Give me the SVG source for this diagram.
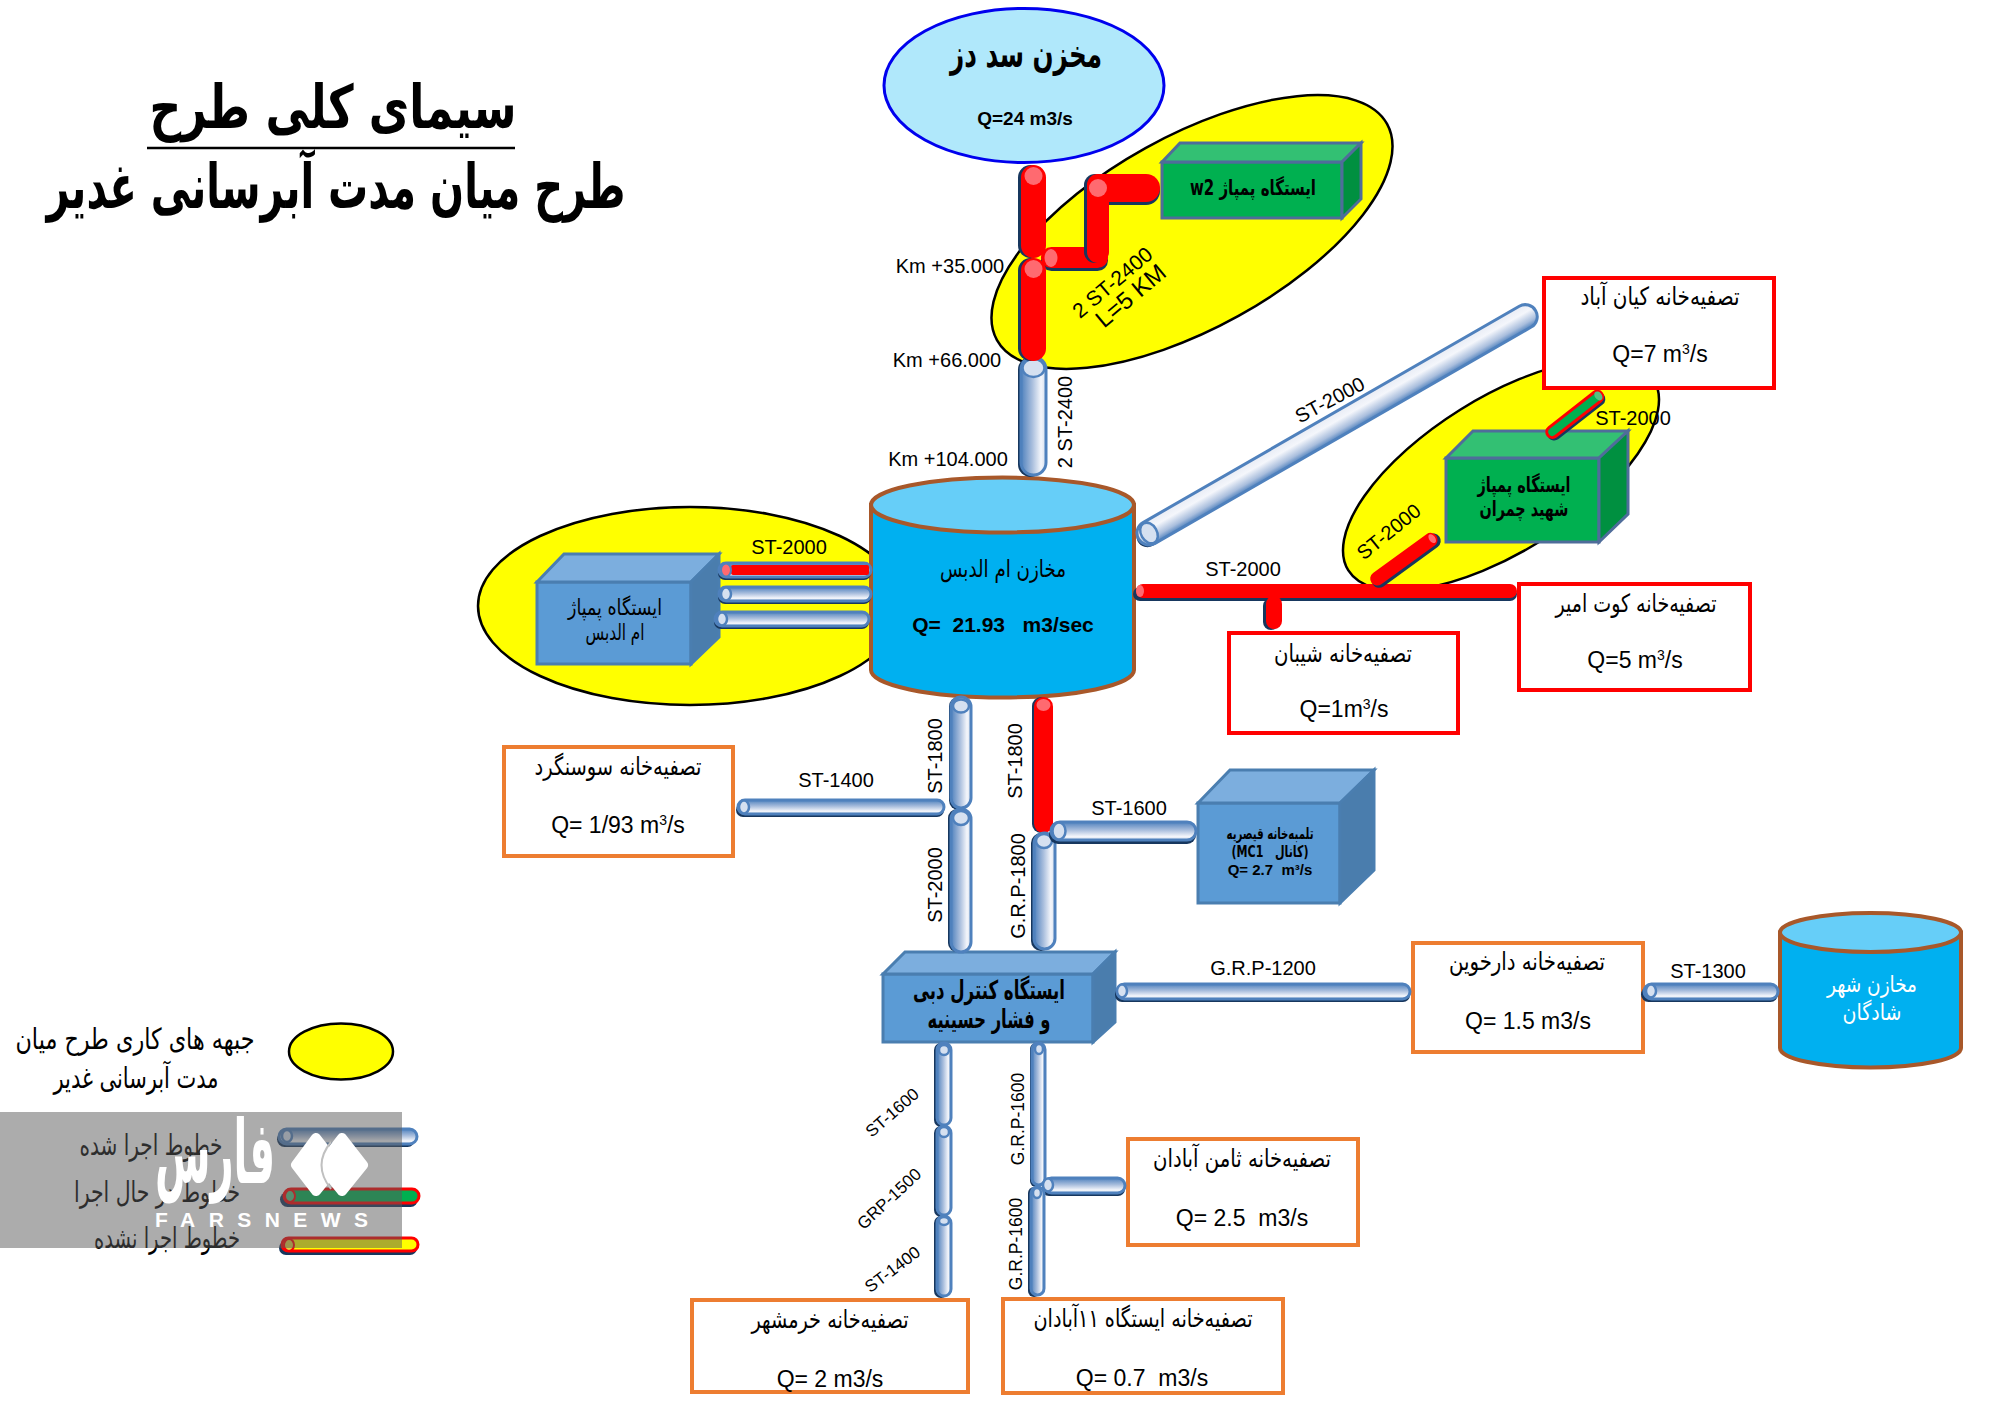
<svg xmlns="http://www.w3.org/2000/svg" width="2000" height="1405" viewBox="0 0 2000 1405">
<style>
text{fill:#000}
.fa{font-family:"DejaVu Sans",sans-serif;direction:rtl;text-anchor:middle}
.fb{font-family:"DejaVu Sans",sans-serif;direction:rtl;text-anchor:middle;font-weight:700}
.en{font-family:"Liberation Sans",Arial,sans-serif;font-size:20px;text-anchor:middle}
.eq{font-family:"Liberation Sans",Arial,sans-serif;font-size:23px;text-anchor:middle}
.eb{font-family:"Liberation Sans",Arial,sans-serif;font-weight:700;text-anchor:middle}
.yl{fill:#FFFF00;stroke:#000;stroke-width:2.5}
.rb{fill:#fff;stroke:#FF0000;stroke-width:4}
.ob{fill:#fff;stroke:#ED7D31;stroke-width:4}
.bf{fill:#5B9BD5;stroke:#4A7EB0;stroke-width:3}
.bt{fill:#7CAEDE;stroke:#4A7EB0;stroke-width:3}
.bs{fill:#4A7DAD;stroke:#4A7EB0;stroke-width:3}
.gf{fill:#00B050;stroke:#4F6D9A;stroke-width:3}
.gt{fill:#33C073;stroke:#4F6D9A;stroke-width:3}
.gs{fill:#009040;stroke:#4F6D9A;stroke-width:3}
.tb{fill:#00B0F0;stroke:#A8582A;stroke-width:4}
.tt{fill:#66CEF8;stroke:#A8582A;stroke-width:4}
.sh{fill:#17375E}
.bv{fill:url(#gv);stroke:#4F81BD;stroke-width:3}
.bh{fill:url(#gh);stroke:#4F81BD;stroke-width:3}
.bd{fill:url(#gd);stroke:#4F81BD;stroke-width:3}
.r{fill:#FF0000}
.cb{fill:#D5E0F0;stroke:#4F81BD;stroke-width:2.5}
.cr{fill:#FF6A70}
</style>
<defs>
<linearGradient id="gv" x1="0" y1="0" x2="1" y2="0"><stop offset="0" stop-color="#4F81BD"/><stop offset=".45" stop-color="#A9BEDD"/><stop offset=".8" stop-color="#F4F6FB"/><stop offset="1" stop-color="#D5DFEE"/></linearGradient>
<linearGradient id="gh" x1="0" y1="0" x2="0" y2="1"><stop offset="0" stop-color="#4F81BD"/><stop offset=".45" stop-color="#A9BEDD"/><stop offset=".8" stop-color="#F4F6FB"/><stop offset="1" stop-color="#D5DFEE"/></linearGradient>
<linearGradient id="gd" x1="0" y1="0" x2="0" y2="1"><stop offset="0" stop-color="#E8ECF5"/><stop offset=".35" stop-color="#F4F6FB"/><stop offset=".75" stop-color="#A9BEDD"/><stop offset="1" stop-color="#4F81BD"/></linearGradient>
</defs>

<g id="title">
<text class="fb" x="333" y="128" font-size="60" textLength="367" lengthAdjust="spacingAndGlyphs">سیمای کلی طرح</text>
<line x1="147" y1="148" x2="515" y2="148" stroke="#000" stroke-width="2.5"/>
<text class="fb" x="336" y="208" font-size="62" textLength="579" lengthAdjust="spacingAndGlyphs">طرح میان مدت آبرسانی غدیر</text>
</g>

<g id="zones">
<ellipse class="yl" cx="1192" cy="232" rx="223" ry="96" transform="rotate(-29 1192 232)"/>
<ellipse class="yl" cx="1501" cy="475" rx="180" ry="77" transform="rotate(-32 1501 475)"/>
<ellipse class="yl" cx="690" cy="606" rx="212" ry="99"/>
</g>

<g id="dez">
<ellipse cx="1024" cy="85.500" rx="140" ry="77" fill="#B0E8FB" stroke="#0000EE" stroke-width="3"/>
<text class="fb" x="1026" y="67" font-size="38" textLength="152" lengthAdjust="spacingAndGlyphs">مخزن سد دز</text>
<text class="eb" x="1025" y="125" font-size="19">Q=24 m3/s</text>
</g>

<g id="pump-w2">
<polygon class="gf" points="1162,162 1342,162 1342,218 1162,218"/>
<polygon class="gt" points="1162,162 1180,143 1361,143 1342,162"/>
<polygon class="gs" points="1342,162 1361,143 1361,199 1342,218"/>
<text class="fb" x="1253" y="195" font-size="21" textLength="126" lengthAdjust="spacingAndGlyphs">ایستگاه پمپاژ w2</text>
</g>

<g id="tank-omidiyeh">
<path class="tb" d="M871 505V670A131.500 27.500 0 0 0 1134 670V505Z"/>
<ellipse class="tt" cx="1002.500" cy="505" rx="131.500" ry="27.500"/>
<text class="fa" x="1003" y="577" font-size="24" textLength="126" lengthAdjust="spacingAndGlyphs">مخازن ام الدبس</text>
<text class="eb" x="1003" y="632" font-size="21" xml:space="preserve">Q=  21.93   m3/sec</text>
</g>

<g id="pump-omidiyeh">
<polygon class="bf" points="537,582 691,582 691,664 537,664"/>
<polygon class="bt" points="537,582 564,554 719,554 691,582"/>
<polygon class="bs" points="691,582 719,554 719,637 691,664"/>
<text class="fa" x="615" y="615" font-size="22" textLength="94" lengthAdjust="spacingAndGlyphs">ایستگاه پمپاژ</text>
<text class="fa" x="615" y="640" font-size="22" textLength="59" lengthAdjust="spacingAndGlyphs">ام الدبس</text>
</g>

<g id="pump-chamran">
<polygon class="gf" points="1446,458 1599,458 1599,542 1446,542"/>
<polygon class="gt" points="1446,458 1473,431 1628,431 1599,458"/>
<polygon class="gs" points="1599,458 1628,431 1628,514 1599,542"/>
<text class="fb" x="1524" y="492" font-size="21" textLength="93" lengthAdjust="spacingAndGlyphs">ایستگاه پمپاژ</text>
<text class="fb" x="1524" y="516" font-size="21" textLength="89" lengthAdjust="spacingAndGlyphs">شهید چمران</text>
</g>

<g id="plant-kianabad">
<rect class="rb" x="1544" y="278" width="230" height="110"/>
<text class="fa" x="1660" y="305" font-size="25" textLength="159" lengthAdjust="spacingAndGlyphs">تصفیه‌خانه کیان آباد</text>
<text class="eq" x="1660" y="362">Q=7 m<tspan font-size="14" dy="-8">3</tspan><tspan dy="8">/s</tspan></text>
</g>
<g id="plant-kutamir">
<rect class="rb" x="1519" y="584" width="231" height="106"/>
<text class="fa" x="1636" y="612" font-size="25" textLength="161" lengthAdjust="spacingAndGlyphs">تصفیه‌خانه کوت امیر</text>
<text class="eq" x="1635" y="668">Q=5 m<tspan font-size="14" dy="-8">3</tspan><tspan dy="8">/s</tspan></text>
</g>
<g id="plant-sheyban">
<rect class="rb" x="1229" y="633" width="229" height="100"/>
<text class="fa" x="1343" y="662" font-size="25" textLength="138" lengthAdjust="spacingAndGlyphs">تصفیه‌خانه شیبان</text>
<text class="eq" x="1344" y="717">Q=1m<tspan font-size="14" dy="-8">3</tspan><tspan dy="8">/s</tspan></text>
</g>
<g id="plant-soosangerd">
<rect class="ob" x="504" y="747" width="229" height="109"/>
<text class="fa" x="618" y="775" font-size="25" textLength="167" lengthAdjust="spacingAndGlyphs">تصفیه‌خانه سوسنگرد</text>
<text class="eq" x="618" y="833">Q= 1/93 m<tspan font-size="14" dy="-8">3</tspan><tspan dy="8">/s</tspan></text>
</g>
<g id="pump-gheysarieh">
<polygon class="bf" points="1198,803 1340,803 1340,903 1198,903"/>
<polygon class="bt" points="1198,803 1230,770 1374,770 1340,803"/>
<polygon class="bs" points="1340,803 1374,770 1374,870 1340,903"/>
<text class="fb" x="1270" y="839" font-size="16" textLength="87" lengthAdjust="spacingAndGlyphs">تلمبه‌خانه قیصریه</text>
<text class="fb" x="1270" y="857" font-size="16" textLength="77" lengthAdjust="spacingAndGlyphs" xml:space="preserve">(کانال   MC1)</text>
<text class="eb" x="1270" y="875" font-size="15" xml:space="preserve">Q= 2.7  m³/s</text>
</g>
<g id="control-hoseynieh">
<polygon class="bf" points="883,974 1093,974 1093,1042 883,1042"/>
<polygon class="bt" points="883,974 905,952 1115,952 1093,974"/>
<polygon class="bs" points="1093,974 1115,952 1115,1022 1093,1042"/>
<text class="fb" x="989" y="999" font-size="26" textLength="152" lengthAdjust="spacingAndGlyphs">ایستگاه کنترل دبی</text>
<text class="fb" x="989" y="1028" font-size="26" textLength="123" lengthAdjust="spacingAndGlyphs">و فشار حسینیه</text>
</g>
<g id="plant-darkhovin">
<rect class="ob" x="1413" y="943" width="230" height="109"/>
<text class="fa" x="1527" y="970" font-size="25" textLength="156" lengthAdjust="spacingAndGlyphs">تصفیه‌خانه دارخوین</text>
<text class="eq" x="1528" y="1029">Q= 1.5 m3/s</text>
</g>
<g id="tank-shadegan">
<path class="tb" d="M1780 932.500V1048A90.500 19.500 0 0 0 1961 1048V932.500Z"/>
<ellipse class="tt" cx="1870.500" cy="932.500" rx="90.500" ry="19.500"/>
<text class="fa" x="1872" y="992" font-size="23" textLength="90" lengthAdjust="spacingAndGlyphs" style="fill:#fff">مخازن شهر</text>
<text class="fa" x="1872" y="1020" font-size="23" textLength="59" lengthAdjust="spacingAndGlyphs" style="fill:#fff">شادگان</text>
</g>
<g id="plant-thamen">
<rect class="ob" x="1128" y="1139" width="230" height="106"/>
<text class="fa" x="1242" y="1167" font-size="25" textLength="178" lengthAdjust="spacingAndGlyphs">تصفیه‌خانه ثامن آبادان</text>
<text class="eq" x="1242" y="1226" xml:space="preserve">Q= 2.5  m3/s</text>
</g>
<g id="plant-khorramshahr">
<rect class="ob" x="692" y="1300" width="276" height="92"/>
<text class="fa" x="830" y="1328" font-size="25" textLength="157" lengthAdjust="spacingAndGlyphs">تصفیه‌خانه خرمشهر</text>
<text class="eq" x="830" y="1387">Q= 2 m3/s</text>
</g>
<g id="plant-station11">
<rect class="ob" x="1003" y="1299" width="280" height="94"/>
<text class="fa" x="1143" y="1327" font-size="25" textLength="219" lengthAdjust="spacingAndGlyphs">تصفیه‌خانه ایستگاه ۱۱آبادان</text>
<text class="eq" x="1142" y="1386" xml:space="preserve">Q= 0.7  m3/s</text>
</g>

<g id="connectors">
<!-- main blue -->
<rect class="sh" x="1018" y="357" width="25" height="120" rx="12.500"/><rect class="bv" x="1021" y="357" width="25" height="118" rx="12.500"/><ellipse class="cb" cx="1033.500" cy="368" rx="11" ry="9"/>
<!-- w2 red -->
<rect class="sh" x="1018" y="165" width="25" height="93" rx="12.500"/><rect class="r" x="1021" y="165" width="25" height="93" rx="12.500"/><ellipse class="cr" cx="1033.500" cy="176" rx="9" ry="9"/>
<rect class="sh" x="1041" y="250" width="67" height="21" rx="10.500"/><rect class="r" x="1041" y="247" width="67" height="21" rx="10.500"/><ellipse class="cr" cx="1051" cy="258" rx="6.500" ry="9"/>
<rect class="sh" x="1084" y="174" width="22" height="89" rx="11"/><rect class="sh" x="1087" y="177" width="73" height="28" rx="14"/><rect class="r" x="1087" y="174" width="73" height="28" rx="14"/><rect class="r" x="1087" y="174" width="22" height="89" rx="11"/><ellipse class="cr" cx="1098" cy="188" rx="9" ry="9"/>
<rect class="sh" x="1018" y="258" width="25" height="103" rx="12.500"/><rect class="r" x="1021" y="258" width="25" height="103" rx="12.500"/><ellipse class="cr" cx="1033.500" cy="269" rx="9" ry="9"/>
<!-- diagonal -->
<g transform="rotate(-29.900 1149 533)"><rect class="sh" x="1135" y="524" width="30" height="22" rx="11"/><rect class="bd" x="1137" y="521" width="458" height="24" rx="12"/><ellipse class="cb" cx="1149" cy="533" rx="8" ry="11"/></g>
<!-- red main -->
<rect class="sh" x="1133" y="587" width="384" height="14" rx="7"/><rect class="r" x="1136" y="584" width="381" height="14" rx="7"/><ellipse class="cr" cx="1140" cy="591" rx="4" ry="6"/>
<rect class="sh" x="1263" y="598" width="16" height="32" rx="8"/><rect class="r" x="1266" y="596" width="16" height="33" rx="8"/>
<g transform="rotate(-36 1378 578)"><rect class="sh" x="1370" y="573" width="82" height="15" rx="7.500"/><rect class="r" x="1370" y="571" width="80" height="14" rx="7"/><ellipse class="cr" cx="1445" cy="578" rx="3" ry="5"/></g>
<!-- green -->
<g transform="rotate(-38 1553 432)"><rect class="sh" x="1546" y="427" width="70" height="14" rx="7"/><rect x="1547" y="426" width="68" height="11" rx="5.500" fill="#00B050" stroke="#FF0000" stroke-width="3"/><ellipse cx="1611" cy="431.500" rx="3.500" ry="5" fill="#55C080"/></g>
<!-- omidiyeh -->
<rect class="sh" x="718" y="566" width="153" height="14" rx="7"/><rect class="bh" x="719" y="563" width="152" height="14" rx="7"/><rect class="r" x="731" y="565" width="138" height="10" rx="2"/><ellipse cx="726" cy="570" rx="5" ry="6.500" fill="#FF6A70" stroke="#4F81BD" stroke-width="2"/>
<rect class="sh" x="718" y="590" width="153" height="14" rx="7"/><rect class="bh" x="719" y="587" width="152" height="14" rx="7"/><ellipse class="cb" cx="726" cy="594" rx="5" ry="6.500"/>
<rect class="sh" x="714" y="615" width="155" height="14" rx="7"/><rect class="bh" x="715" y="612" width="154" height="14" rx="7"/><ellipse class="cb" cx="722" cy="619" rx="5" ry="6.500"/>
<!-- south from tank -->
<rect class="sh" x="949" y="697" width="19" height="113" rx="9.500"/><rect class="bv" x="951" y="697" width="20" height="111" rx="10"/><ellipse class="cb" cx="961" cy="706" rx="8" ry="6.500"/>
<rect class="sh" x="736" y="803" width="208" height="14" rx="7"/><rect class="bh" x="738" y="800" width="206" height="14" rx="7"/><ellipse class="cb" cx="744" cy="807" rx="5" ry="6.500"/>
<rect class="sh" x="948" y="809" width="19" height="143" rx="9"/><rect class="bv" x="951" y="809" width="20" height="143" rx="10"/><ellipse class="cb" cx="961" cy="818" rx="8" ry="7"/>
<rect class="sh" x="1032" y="697" width="18" height="136" rx="9"/><rect class="r" x="1034" y="697" width="19" height="136" rx="9.500"/><ellipse class="cr" cx="1043.500" cy="705" rx="7" ry="6"/>
<rect class="sh" x="1031" y="833" width="20" height="118" rx="10"/><rect class="bv" x="1034" y="833" width="21" height="116" rx="10.500"/><ellipse class="cb" cx="1044" cy="841" rx="8" ry="7"/>
<rect class="sh" x="1049" y="826" width="147" height="18" rx="9"/><rect class="bh" x="1051" y="822" width="145" height="18" rx="9"/><ellipse class="cb" cx="1059" cy="831" rx="6.500" ry="8.500"/>
<rect class="sh" x="1115" y="987" width="295" height="15" rx="7"/><rect class="bh" x="1117" y="984" width="293" height="15" rx="7.500"/><ellipse class="cb" cx="1122" cy="991" rx="5" ry="6.500"/>
<rect class="sh" x="1641" y="987" width="137" height="15" rx="7.500"/><rect class="bh" x="1644" y="984" width="134" height="15" rx="7.500"/><ellipse class="cb" cx="1651" cy="991" rx="5" ry="6.500"/>
<!-- lower -->
<rect class="sh" x="934" y="1043" width="14" height="84" rx="7"/><rect class="bv" x="937" y="1043" width="14" height="82" rx="7"/><ellipse class="cb" cx="944" cy="1050" rx="5" ry="5"/>
<rect class="sh" x="934" y="1126" width="14" height="91" rx="7"/><rect class="bv" x="937" y="1126" width="14" height="89" rx="7"/><ellipse class="cb" cx="944" cy="1132" rx="5" ry="5"/>
<rect class="sh" x="934" y="1216" width="14" height="82" rx="7"/><rect class="bv" x="937" y="1216" width="14" height="80" rx="7"/><ellipse class="cb" cx="944" cy="1221" rx="5" ry="4"/>
<rect class="sh" x="1030" y="1043" width="12" height="144" rx="6"/><rect class="bv" x="1032" y="1043" width="13" height="142" rx="6.500"/><ellipse class="cb" cx="1039" cy="1049" rx="4" ry="5"/>
<rect class="sh" x="1042" y="1181" width="83" height="15" rx="7"/><rect class="bh" x="1044" y="1178" width="81" height="15" rx="7.500"/><ellipse class="cb" cx="1048" cy="1185" rx="5" ry="6.500"/>
<rect class="sh" x="1028" y="1187" width="12" height="110" rx="6"/><rect class="bv" x="1031" y="1187" width="13" height="108" rx="6.500"/><ellipse class="cb" cx="1037" cy="1193" rx="4" ry="5"/>
<!-- pipe labels -->
<text class="en" x="950" y="273">Km +35.000</text>
<text class="en" x="947" y="367">Km +66.000</text>
<text class="en" x="948" y="466">Km +104.000</text>
<text class="en" transform="translate(1072 422) rotate(-90)">2 ST-2400</text>
<text class="en" style="font-size:21px" transform="translate(1117 288) rotate(-40)">2 ST-2400</text>
<text class="en" style="font-size:24px" transform="translate(1136 302) rotate(-40)">L=5 KM</text>
<text class="en" transform="translate(1333 406) rotate(-28)">ST-2000</text>
<text class="en" x="1633" y="425">ST-2000</text>
<text class="en" transform="translate(1393 537) rotate(-39)">ST-2000</text>
<text class="en" x="1243" y="576">ST-2000</text>
<text class="en" x="789" y="554">ST-2000</text>
<text class="en" x="836" y="787">ST-1400</text>
<text class="en" transform="translate(942 756) rotate(-90)">ST-1800</text>
<text class="en" transform="translate(1022 761) rotate(-90)">ST-1800</text>
<text class="en" x="1129" y="815">ST-1600</text>
<text class="en" transform="translate(942 885) rotate(-90)">ST-2000</text>
<text class="en" transform="translate(1025 886) rotate(-90)">G.R.P-1800</text>
<text class="en" x="1263" y="975">G.R.P-1200</text>
<text class="en" x="1708" y="978">ST-1300</text>
<text class="en" style="font-size:17px" transform="translate(896 1117) rotate(-41)">ST-1600</text>
<text class="en" style="font-size:17px" transform="translate(893 1203) rotate(-43)">GRP-1500</text>
<text class="en" style="font-size:17px" transform="translate(896 1274) rotate(-37)">ST-1400</text>
<text class="en" style="font-size:17.500px" transform="translate(1024 1119) rotate(-90)">G.R.P-1600</text>
<text class="en" style="font-size:17.500px" transform="translate(1021.500 1244) rotate(-90)">G.R.P-1600</text>
</g>

<g id="legend">
<ellipse class="yl" cx="341" cy="1051.500" rx="52" ry="28"/>
<text class="fa" x="135" y="1049" font-size="29" textLength="239" lengthAdjust="spacingAndGlyphs">جبهه های کاری طرح میان</text>
<text class="fa" x="136" y="1088" font-size="29" textLength="165" lengthAdjust="spacingAndGlyphs">مدت آبرسانی غدیر</text>
<text class="fa" x="151" y="1155" font-size="29" textLength="143" lengthAdjust="spacingAndGlyphs">خطوط اجرا شده</text>
<text class="fa" x="157" y="1202" font-size="29" textLength="166" lengthAdjust="spacingAndGlyphs">خطوط در حال اجرا</text>
<text class="fa" x="167" y="1248" font-size="29" textLength="146" lengthAdjust="spacingAndGlyphs">خطوط اجرا نشده</text>
<rect class="sh" x="277" y="1132" width="138" height="15" rx="7.500"/><rect class="bh" x="279" y="1129" width="138" height="15" rx="7.500"/><ellipse class="cb" cx="287" cy="1136" rx="5" ry="6"/>
<rect class="sh" x="280" y="1192" width="138" height="15" rx="7.500"/><rect x="284" y="1189" width="135" height="14" rx="7" fill="#00B050" stroke="#FF0000" stroke-width="3"/><ellipse cx="290" cy="1196" rx="5" ry="6" fill="#55C080" stroke="#FF0000" stroke-width="2"/>
<rect class="sh" x="279" y="1241" width="138" height="14" rx="7"/><rect x="282" y="1238" width="136" height="13" rx="6.500" fill="#FFFF00" stroke="#FF0000" stroke-width="3"/><ellipse cx="289" cy="1245" rx="5" ry="6" fill="#E0D040" stroke="#FF0000" stroke-width="2"/>
</g>

<g id="watermark">
<rect x="0" y="1112" width="402" height="136" fill="#5A5A5A" fill-opacity=".5"/>
<polygon points="316,1138 337,1165 316,1191 296,1165" fill="#fff" stroke="#fff" stroke-width="10" stroke-linejoin="round"/>
<polygon points="342,1138 363,1165 342,1191 321,1165" fill="#fff" stroke="#fff" stroke-width="10" stroke-linejoin="round"/>
<path d="M331 1142Q312 1165 331 1189" fill="none" stroke="#C0C0C0" stroke-width="2"/>
<text class="fb" x="215" y="1183" font-size="88" textLength="120" lengthAdjust="spacingAndGlyphs" style="fill:#fff">فارس</text>
<text x="155" y="1227" font-family="Liberation Sans, Arial, sans-serif" font-size="21" font-weight="700" textLength="213" style="fill:#fff">FARSNEWS</text>
</g>
</svg>
